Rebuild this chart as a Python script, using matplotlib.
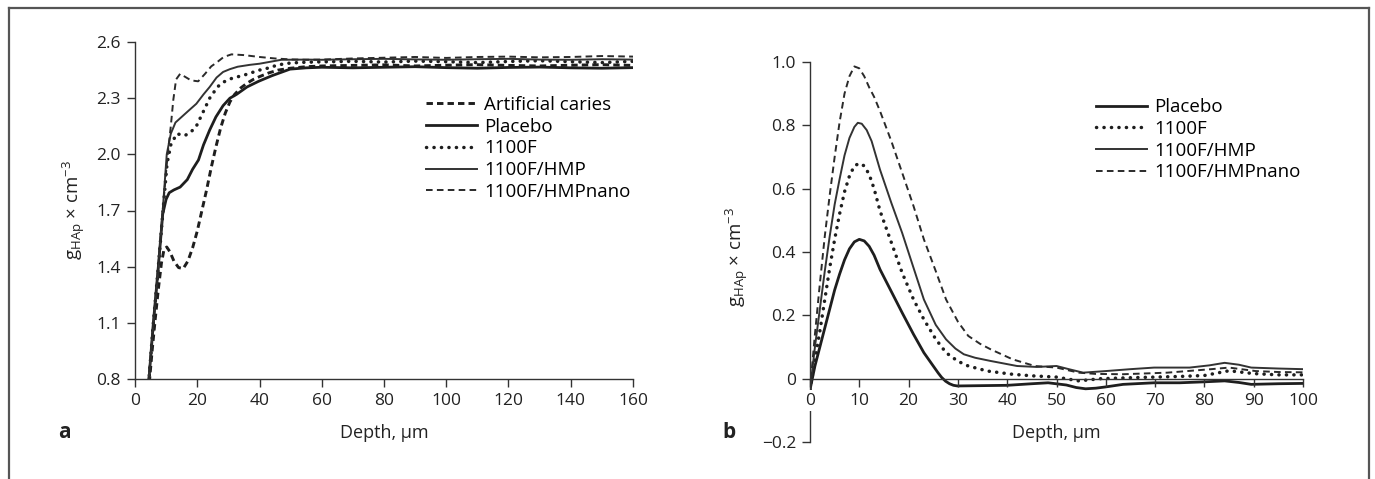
import matplotlib
matplotlib.use("Agg")
import matplotlib.pyplot as plt
from matplotlib.lines import Line2D

plt.rcParams.update(
    {
        "font.family": ["Open Sans", "DejaVu Sans"],
        "mathtext.default": "regular",
        "axes.linewidth": 1.0,
        "axes.edgecolor": "#333333",
        "xtick.color": "#333333",
        "ytick.color": "#333333",
        "xtick.labelcolor": "#222222",
        "ytick.labelcolor": "#222222",
    }
)

################### DATA: panel a ###################

xticks_a = [0, 20, 40, 60, 80, 100, 120, 140, 160]
yticks_a = [0.8, 1.1, 1.4, 1.7, 2.0, 2.3, 2.6]

labels_a = ["Artificial caries", "Placebo", "1100F", "1100F/HMP", "1100F/HMPnano"]

caries_x = [4.6, 5.5, 6.5, 7.5, 8.5, 9.3, 10.2, 11.2, 12.5, 14, 15.5, 17, 18.5,
            20, 21.5, 23, 24.5, 26, 27.5, 29, 30.5, 32, 34, 36, 38, 40, 43, 46,
            50, 55, 60, 70, 80, 90, 100, 110, 120, 130, 140, 150, 160]
caries_y = [0.78, 0.95, 1.12, 1.28, 1.42, 1.49, 1.505, 1.48, 1.43, 1.395, 1.39,
            1.43, 1.50, 1.59, 1.70, 1.81, 1.93, 2.04, 2.14, 2.22, 2.28, 2.32,
            2.355, 2.38, 2.40, 2.415, 2.435, 2.45, 2.46, 2.468, 2.472, 2.475,
            2.478, 2.472, 2.476, 2.479, 2.475, 2.472, 2.476, 2.479, 2.475]

placebo_a_x = [4.4, 5.9, 7.5, 8.9, 10, 11, 12.5, 14.5, 16.8, 18.5, 20.4, 22, 24,
               26, 28.3, 30.5, 32.6, 36, 39.7, 44, 49.8, 55, 60, 70, 80, 90,
               100, 110, 120, 130, 140, 150, 160]
placebo_a_y = [0.78, 1.1, 1.4, 1.68, 1.76, 1.795, 1.81, 1.825, 1.865, 1.92, 1.97,
               2.05, 2.13, 2.2, 2.26, 2.30, 2.32, 2.36, 2.39, 2.42, 2.455, 2.462,
               2.465, 2.462, 2.465, 2.468, 2.463, 2.46, 2.464, 2.466, 2.462,
               2.46, 2.463]

f1100_a_x = [4.4, 5.9, 7.5, 9, 10.3, 11.5, 13.4, 16, 18, 19.7, 22, 24, 26.5,
             28.3, 31, 35.4, 40, 42.6, 46, 50, 55, 60, 70, 80, 90, 100, 110,
             120, 130, 140, 150, 160]
f1100_a_y = [0.78, 1.1, 1.4, 1.7, 1.95, 2.05, 2.11, 2.10, 2.12, 2.15, 2.23, 2.30,
             2.36, 2.385, 2.405, 2.425, 2.45, 2.46, 2.478, 2.488, 2.492, 2.494,
             2.497, 2.493, 2.498, 2.495, 2.49, 2.496, 2.5, 2.495, 2.49, 2.497]

hmp_a_x = [4.3, 5.9, 7.5, 8.9, 10.2, 11.5, 13, 15, 17, 19.7, 22, 24, 26.2, 28.3,
           30.5, 33, 36.9, 40, 47, 55, 60, 70, 80, 90, 100, 110, 120, 130, 140,
           150, 160]
hmp_a_y = [0.78, 1.1, 1.4, 1.7, 2.0, 2.11, 2.17, 2.2, 2.23, 2.27, 2.32, 2.36,
           2.41, 2.44, 2.455, 2.468, 2.478, 2.484, 2.505, 2.506, 2.505, 2.508,
           2.51, 2.507, 2.505, 2.508, 2.51, 2.506, 2.505, 2.508, 2.506]

nano_a_x = [4.3, 5.9, 7.5, 8.9, 10.5, 11.5, 12.3, 13.2, 14.5, 16, 18, 20.3,
            22.5, 24.5, 26.2, 28.5, 31, 35, 40, 45, 50, 55, 60, 70, 80, 90,
            100, 110, 120, 130, 140, 150, 160]
nano_a_y = [0.78, 1.1, 1.4, 1.7, 2.0, 2.15, 2.29, 2.40, 2.43, 2.415, 2.395, 2.39,
            2.43, 2.47, 2.49, 2.52, 2.534, 2.53, 2.52, 2.512, 2.507, 2.505,
            2.506, 2.512, 2.516, 2.52, 2.515, 2.52, 2.522, 2.518, 2.52, 2.525,
            2.522]

################### DATA: panel b ###################

xticks_b = [0, 10, 20, 30, 40, 50, 60, 70, 80, 90, 100]
yticks_b = [-0.2, 0, 0.2, 0.4, 0.6, 0.8, 1.0]
ytick_labels_b = ["\u22120.2", "0", "0.2", "0.4", "0.6", "0.8", "1.0"]

labels_b = ["Placebo", "1100F", "1100F/HMP", "1100F/HMPnano"]

placebo_b_x = [0, 1, 2, 3, 4, 5, 6, 7, 8, 9, 10, 11, 12, 13, 14.2, 16.5, 18.7,
               21, 23.1, 25, 26, 26.7, 27.5, 28.3, 29.1, 29.9, 35, 40, 45, 48.3,
               52, 54, 55.9, 58, 60, 63.5, 69.8, 75, 80, 84.1, 87, 89.5, 95, 100]
placebo_b_y = [-0.035, 0.04, 0.1, 0.16, 0.22, 0.28, 0.33, 0.375, 0.41, 0.432,
               0.44, 0.435, 0.418, 0.39, 0.345, 0.275, 0.208, 0.14, 0.082, 0.04,
               0.018, 0.004, -0.008, -0.016, -0.021, -0.023, -0.022, -0.021,
               -0.016, -0.013, -0.02, -0.028, -0.032, -0.03, -0.026, -0.018,
               -0.013, -0.013, -0.01, -0.007, -0.012, -0.018, -0.016, -0.015]

f1100_b_x = [0, 1, 2, 3, 4, 5, 6, 7, 8, 9, 10, 11, 12, 13, 14.2, 16.5, 18.7, 21,
             23.1, 25.5, 27.6, 30, 32.1, 36, 41, 45, 50, 54.5, 59, 65, 70, 75,
             80, 85, 90, 95, 100]
f1100_b_y = [-0.035, 0.06, 0.15, 0.25, 0.35, 0.44, 0.52, 0.59, 0.64, 0.672, 0.68,
             0.672, 0.645, 0.6, 0.53, 0.43, 0.334, 0.25, 0.187, 0.125, 0.082,
             0.055, 0.04, 0.024, 0.014, 0.009, 0.005, -0.007, 0.0, 0.003, 0.005,
             0.007, 0.01, 0.025, 0.016, 0.012, 0.012]

hmp_b_x = [0, 1, 2, 3, 4, 5, 6, 7, 8, 9, 9.7, 10.5, 11.5, 12.5, 14.2, 16.5, 18.7,
           21, 23.1, 25.5, 27.6, 29.5, 31.2, 33.5, 36.6, 42, 46, 50, 52.5, 55.4,
           60, 65, 69.8, 77, 81, 84.1, 87, 89.5, 95, 100]
hmp_b_y = [-0.035, 0.1, 0.22, 0.34, 0.45, 0.55, 0.63, 0.705, 0.76, 0.795, 0.808,
           0.805, 0.785, 0.75, 0.66, 0.555, 0.46, 0.35, 0.25, 0.17, 0.124,
           0.095, 0.077, 0.066, 0.056, 0.04, 0.037, 0.04, 0.03, 0.019, 0.024,
           0.03, 0.035, 0.035, 0.042, 0.05, 0.044, 0.035, 0.032, 0.03]

nano_b_x = [0, 1, 2, 3, 4, 5, 6, 7, 8, 9, 10, 11, 12, 13, 14.2, 16.5, 18.7, 21,
            23.1, 25.5, 27.6, 30, 32.1, 34.5, 36.6, 41.1, 45.6, 50, 54.5, 58,
            63.5, 72.5, 81.4, 85, 90.4, 95, 100]
nano_b_y = [-0.035, 0.14, 0.3, 0.45, 0.58, 0.7, 0.81, 0.9, 0.955, 0.986, 0.98,
            0.955, 0.92, 0.89, 0.845, 0.75, 0.65, 0.545, 0.44, 0.34, 0.25, 0.18,
            0.135, 0.11, 0.093, 0.061, 0.04, 0.035, 0.019, 0.015, 0.014, 0.019,
            0.03, 0.035, 0.024, 0.021, 0.02]

################### STYLES ###################

dark = "#1e1e1e"
st_caries = dict(color=dark, lw=2.1, ls=(0, (2.2, 1.4)))
st_placebo = dict(color=dark, lw=2.0, ls="-")
st_f1100 = dict(color=dark, lw=2.5, ls=(0, (0.05, 2.1)), dash_capstyle="round")
st_hmp = dict(color="#333333", lw=1.4, ls="-")
st_nano = dict(color="#2a2a2a", lw=1.4, ls=(0, (3.4, 2.2)))

fig = plt.figure(figsize=(13.75, 4.79), dpi=100)

# outer frame (top, left, right)
for xs, ys in [((0.0065, 0.9956), (0.9827, 0.9827)),
               ((0.0065, 0.0065), (0.0, 0.9827)),
               ((0.9956, 0.9956), (0.0, 0.9827))]:
    fig.add_artist(Line2D(xs, ys, color="#555555", lw=1.6,
                          transform=fig.transFigure))

################### PANEL A ###################

ax = fig.add_axes((135 / 1375, 100 / 479, 498 / 1375, 337 / 479))
for axe in ["top", "right"]:
    ax.spines[axe].set_visible(False)

ax.plot(caries_x, caries_y, label=labels_a[0], **st_caries)
ax.plot(placebo_a_x, placebo_a_y, label=labels_a[1], **st_placebo)
ax.plot(f1100_a_x, f1100_a_y, label=labels_a[2], **st_f1100)
ax.plot(hmp_a_x, hmp_a_y, label=labels_a[3], **st_hmp)
ax.plot(nano_a_x, nano_a_y, label=labels_a[4], **st_nano)

ax.set_xlim(0, 160)
ax.set_ylim(0.8, 2.6)
ax.set_xticks(xticks_a)
ax.set_xticklabels([str(v) for v in xticks_a])
ax.set_yticks(yticks_a)
ax.set_yticklabels([f"{v:.1f}" for v in yticks_a])
ax.tick_params(direction="out", length=6, width=1.0, pad=4, labelsize=12.5)

ax.legend(loc="upper left", bbox_to_anchor=(0.585, 0.84), frameon=False,
          fontsize=13.5, handlelength=2.7, handletextpad=0.4, labelspacing=0.2,
          borderpad=0, borderaxespad=0)

################### PANEL B ###################

bx = fig.add_axes((810 / 1375, 37 / 479, 493 / 1375, 380 / 479))
for axe in ["top", "right"]:
    bx.spines[axe].set_visible(False)
bx.spines["bottom"].set_position(("data", 0))

bx.plot(placebo_b_x, placebo_b_y, label=labels_b[0], **st_placebo)
bx.plot(f1100_b_x, f1100_b_y, label=labels_b[1], **st_f1100)
bx.plot(hmp_b_x, hmp_b_y, label=labels_b[2], **st_hmp)
bx.plot(nano_b_x, nano_b_y, label=labels_b[3], **st_nano)

bx.set_xlim(0, 100)
bx.set_ylim(-0.2, 1.0)
bx.set_xticks(xticks_b)
bx.set_xticklabels([str(v) for v in xticks_b])
bx.set_yticks(yticks_b)
bx.set_yticklabels(ytick_labels_b)
bx.tick_params(direction="out", length=6, width=1.0, pad=4, labelsize=12.5)
bx.xaxis.set_zorder(3)
bx.get_xticklabels()[0].set_bbox(dict(facecolor="white", edgecolor="none", pad=1.5))

bx.legend(loc="upper left", bbox_to_anchor=(0.58, 0.905), frameon=False,
          fontsize=13.5, handlelength=2.7, handletextpad=0.4, labelspacing=0.2,
          borderpad=0, borderaxespad=0)

################### TEXTS ###################

ylab = "g$_{HAp}$ × cm$^{\u22123}$"
fig.text(74 / 1375, 1 - 210 / 479, ylab, rotation=90, ha="center", va="center",
         fontsize=13.5, color="#222222")
fig.text(737 / 1375, 1 - 257 / 479, ylab, rotation=90, ha="center", va="center",
         fontsize=13.5, color="#222222")
fig.text(384 / 1375, 1 - 433 / 479, "Depth, µm", ha="center", va="center",
         fontsize=13, color="#222222")
fig.text(1056 / 1375, 1 - 433 / 479, "Depth, µm", ha="center", va="center",
         fontsize=13, color="#222222")
fig.text(64 / 1375, 1 - 433 / 479, "a", ha="center", va="center",
         fontsize=15, fontweight="bold", color="#222222")
fig.text(729 / 1375, 1 - 433 / 479, "b", ha="center", va="center",
         fontsize=15, fontweight="bold", color="#222222")

fig.savefig("out.png", dpi=100, facecolor="white")
